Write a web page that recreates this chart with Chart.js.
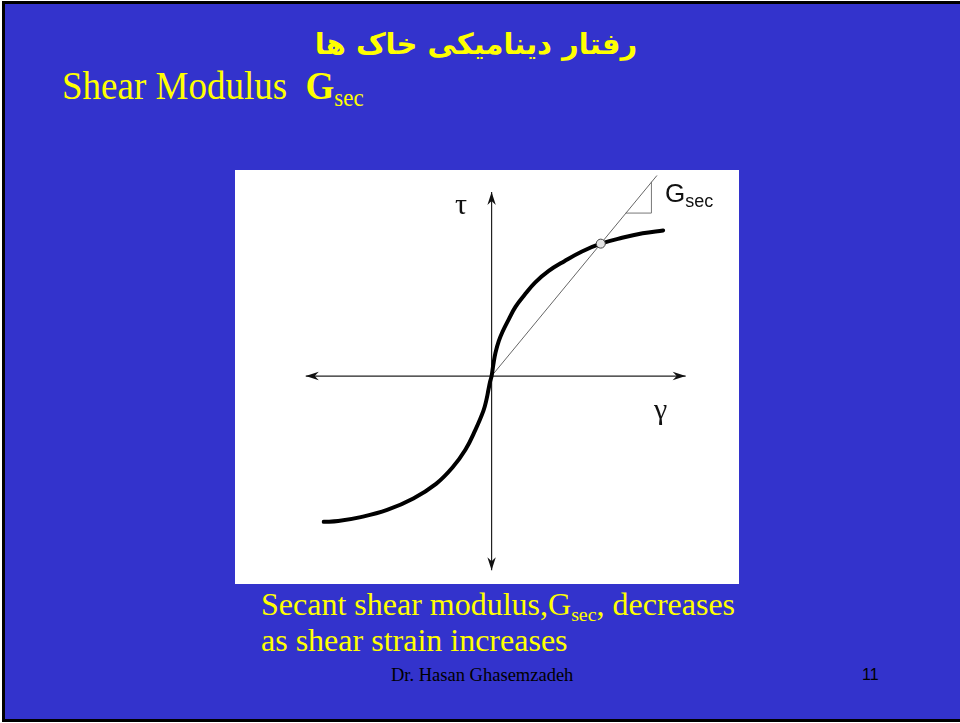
<!DOCTYPE html>
<html>
<head>
<meta charset="utf-8">
<script src="https://cdn.jsdelivr.net/npm/chart.js@4/dist/chart.umd.min.js"></script>
<style>
  html, body { margin: 0; padding: 0; width: 960px; height: 723px; overflow: hidden; background: #ffffff; }
  #slide { position: absolute; left: 2px; top: 1px; width: 980px; height: 715px; background: #3333cc; border: 3px solid #000; }
  .t { position: absolute; white-space: nowrap; line-height: 1; }
  .serif { font-family: "Liberation Serif", "DejaVu Serif", serif; }
  .sans { font-family: "Liberation Sans", Arial, sans-serif; }
  .yellow { color: #ffff00; }
  sub { font-size: 62%; vertical-align: baseline; position: relative; top: 0.28em; line-height: 0; }
  #title { left: 0; width: 952px; top: 30px; text-align: center; font-family: "DejaVu Sans", sans-serif; font-weight: bold; font-size: 29px; direction: rtl; }
  #panel { position: absolute; left: 235px; top: 170px; width: 504px; height: 414px; background: #ffffff; }
  #panel canvas { display: block; }
</style>
</head>
<body>
<div id="slide"></div>

<div id="title" class="t yellow">رفتار دینامیکی خاک ها</div>
<div class="t serif yellow" style="left:62px; top:69px; font-size:37px; transform:scaleY(1.1); transform-origin:left bottom;">Shear Modulus&nbsp;&nbsp;<b>G</b><sub>sec</sub></div>

<div id="panel"><canvas id="chart" width="504" height="414"></canvas></div>

<div class="t serif" style="left:455px; top:189px; font-size:30px; color:#111;">τ</div>
<div class="t serif" style="left:654px; top:394px; font-size:30px; color:#111;">γ</div>
<div class="t sans" style="left:665px; top:180px; font-size:26px; color:#111;">G<sub style="font-size:18px; top:0.3em;">sec</sub></div>

<div class="t serif yellow" style="left:261px; top:588px; font-size:32px;">Secant shear modulus,G<sub>sec</sub>, decreases</div>
<div class="t serif yellow" style="left:261px; top:624px; font-size:32px;">as shear strain increases</div>
<div class="t serif" style="left:391px; top:666px; font-size:18.5px; color:#000;">Dr. Hasan Ghasemzadeh</div>
<div class="t sans" style="left:862px; top:667px; font-size:16px; color:#000;">11</div>

<script>
// Stress–strain backbone curve: shear strain (gamma) against shear stress (tau)
const gamma = [-8.58, -7.84, -6.69, -5.34, -4.00, -2.84, -2.00, -1.34, -0.84, -0.42, -0.26, -0.16, -0.08, 0.00,
               0.09, 0.20, 0.37, 0.57, 0.87, 1.22, 1.67, 2.22, 2.92, 3.72, 4.62, 5.58, 6.67, 7.72, 8.77];
const tau   = [-7.49, -7.45, -7.25, -6.88, -6.29, -5.54, -4.70, -3.79, -2.79, -1.79, -1.20, -0.70, -0.30, 0.00,
               0.60, 1.20, 1.80, 2.30, 2.90, 3.55, 4.15, 4.80, 5.40, 5.90, 6.40, 6.80, 7.10, 7.33, 7.48];

// Point on the curve where the secant modulus is taken
const secantPoint = { gamma: 5.58, tau: 6.80 };
// Secant line from the origin through that point, run up past the top edge
const secantEndGamma = 8.6;

// Slope triangle next to the G_sec label
const triGamma = [6.85, 8.17, 8.17];
const triTau   = [8.37, 8.37, 9.98];

// Axis extents (gamma axis and tau axis)
const gammaAxis = [-9.50, 9.92];
const tauAxis   = [-9.97, 9.45];

const slope = secantPoint.tau / secantPoint.gamma;
const curvePts = gamma.map((g, i) => ({ x: g, y: tau[i] }));
const secantPts = [{ x: 0, y: 0 }, { x: secantEndGamma, y: secantEndGamma * slope }];
const triPts = triGamma.map((g, i) => ({ x: g, y: triTau[i] }));

// Arrowheads at both ends of each axis line
const arrowPlugin = {
  id: 'axisArrows',
  afterDatasetsDraw(chart) {
    const ctx = chart.ctx;
    const xs = chart.scales.x, ys = chart.scales.y;
    const head = (px, py, ang) => {
      const L = 13, W = 4.2, N = 9;
      ctx.save();
      ctx.translate(px, py);
      ctx.rotate(ang);
      ctx.beginPath();
      ctx.moveTo(0, 0);
      ctx.lineTo(-L, -W);
      ctx.lineTo(-N, 0);
      ctx.lineTo(-L, W);
      ctx.closePath();
      ctx.fillStyle = '#111';
      ctx.fill();
      ctx.restore();
    };
    const y0 = ys.getPixelForValue(0), x0 = xs.getPixelForValue(0);
    head(xs.getPixelForValue(gammaAxis[1]), y0, 0);
    head(xs.getPixelForValue(gammaAxis[0]), y0, Math.PI);
    head(x0, ys.getPixelForValue(tauAxis[1]), -Math.PI / 2);
    head(x0, ys.getPixelForValue(tauAxis[0]), Math.PI / 2);
  }
};

new Chart(document.getElementById('chart'), {
  type: 'scatter',
  data: {
    datasets: [
      { data: [{ x: gammaAxis[0], y: 0 }, { x: gammaAxis[1], y: 0 }], showLine: true,
        borderColor: '#222', borderWidth: 1.2, pointRadius: 0, order: 4 },
      { data: [{ x: 0, y: tauAxis[0] }, { x: 0, y: tauAxis[1] }], showLine: true,
        borderColor: '#222', borderWidth: 1.2, pointRadius: 0, order: 4 },
      { data: secantPts, showLine: true, borderColor: '#666', borderWidth: 1, pointRadius: 0, order: 3 },
      { data: triPts, showLine: true, borderColor: '#777', borderWidth: 1, pointRadius: 0, order: 3 },
      { data: curvePts, showLine: true, borderColor: '#000', borderWidth: 4, pointRadius: 0,
        tension: 0.4, borderCapStyle: 'round', borderJoinStyle: 'round', order: 2 },
      { data: [{ x: secantPoint.gamma, y: secantPoint.tau }], showLine: false,
        pointRadius: 4.5, pointBackgroundColor: '#e4e4e4', pointBorderColor: '#444', pointBorderWidth: 1, order: 1 }
    ]
  },
  options: {
    responsive: false,
    animation: false,
    events: [],
    layout: { padding: 0 },
    plugins: { legend: { display: false }, tooltip: { enabled: false } },
    scales: {
      x: { type: 'linear', min: -12.835, max: 12.365, display: false },
      y: { type: 'linear', min: -10.4, max: 10.3, display: false }
    }
  },
  plugins: [arrowPlugin]
});
</script>
</body>
</html>
